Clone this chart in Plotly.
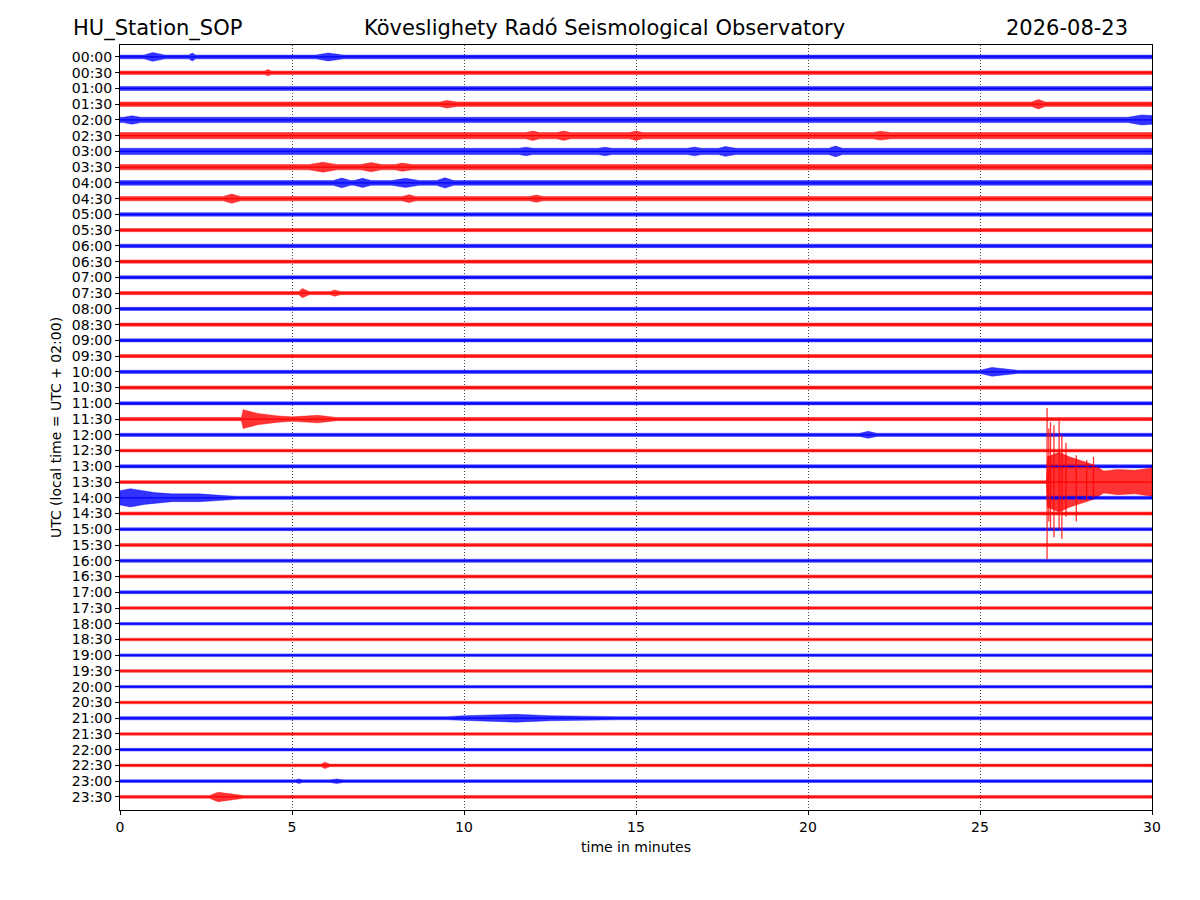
import plotly.graph_objects as go

# row labels (UTC, one trace every 30 minutes)
ROW_LABELS = ["%02d:%02d" % (h, m) for h in range(24) for m in (0, 30)]
ROW_COLORS = ["#0000ff", "#ff0000"] * 24
FILL_COLORS = ["rgba(0,0,255,0.8)", "rgba(255,0,0,0.8)"] * 24

# background noise half-amplitude of each row (in row spacings)
ROW_NOISE = [
    0.12, 0.11, 0.13, 0.14, 0.17, 0.2, 0.2, 0.17, 0.15, 0.14,
    0.11, 0.10, 0.11, 0.10, 0.10, 0.10, 0.10, 0.10, 0.10, 0.10,
    0.10, 0.10, 0.10, 0.10, 0.10, 0.09, 0.10, 0.09, 0.10, 0.10,
    0.09, 0.10, 0.10, 0.10, 0.09, 0.085, 0.085, 0.085, 0.085, 0.085,
    0.085, 0.085, 0.10, 0.075, 0.085, 0.085, 0.085, 0.085,
]

# local bursts: row -> list of (minute, half-amplitude) envelopes
EVENTS = {
    0: [[(0.7, 0.12), (0.95, 0.28), (1.3, 0.12)],
        [(2.0, 0.12), (2.1, 0.25), (2.2, 0.12)],
        [(5.7, 0.12), (6.05, 0.25), (6.5, 0.12)]],
    1: [[(4.2, 0.11), (4.3, 0.2), (4.4, 0.11)]],
    3: [[(9.3, 0.14), (9.5, 0.24), (9.8, 0.14)],
        [(26.5, 0.14), (26.7, 0.3), (26.9, 0.14)]],
    4: [[(0.1, 0.17), (0.35, 0.27), (0.6, 0.17)],
        [(29.3, 0.17), (29.7, 0.32), (30.0, 0.28)]],
    5: [[(11.8, 0.2), (12.0, 0.3), (12.2, 0.2)],
        [(12.7, 0.2), (12.9, 0.3), (13.1, 0.2)],
        [(14.8, 0.2), (15.0, 0.3), (15.2, 0.2)],
        [(21.9, 0.2), (22.1, 0.28), (22.4, 0.2)]],
    6: [[(11.6, 0.2), (11.8, 0.27), (12.0, 0.2)],
        [(13.9, 0.2), (14.1, 0.27), (14.3, 0.2)],
        [(16.5, 0.2), (16.7, 0.28), (16.9, 0.2)],
        [(17.4, 0.2), (17.6, 0.31), (17.9, 0.2)],
        [(20.6, 0.2), (20.8, 0.34), (21.0, 0.2)]],
    7: [[(5.5, 0.17), (5.9, 0.32), (6.3, 0.17)],
        [(7.0, 0.17), (7.3, 0.29), (7.6, 0.17)],
        [(8.0, 0.17), (8.2, 0.26), (8.5, 0.17)]],
    8: [[(6.2, 0.15), (6.45, 0.31), (6.7, 0.15)],
        [(6.8, 0.15), (7.05, 0.29), (7.3, 0.15)],
        [(7.9, 0.15), (8.3, 0.29), (8.7, 0.15)],
        [(9.2, 0.15), (9.45, 0.33), (9.7, 0.15)]],
    9: [[(3.0, 0.14), (3.25, 0.29), (3.5, 0.14)],
        [(8.2, 0.14), (8.4, 0.25), (8.6, 0.14)],
        [(11.9, 0.14), (12.1, 0.23), (12.3, 0.14)]],
    15: [[(5.2, 0.10), (5.3, 0.3), (5.5, 0.10)],
         [(6.1, 0.10), (6.25, 0.2), (6.4, 0.10)]],
    20: [[(25.0, 0.10), (25.35, 0.28), (26.1, 0.10)]],
    23: [[(3.53, 0.10), (3.58, 0.6), (4.0, 0.36), (4.6, 0.2), (5.0, 0.14),
          (5.75, 0.24), (6.3, 0.10)]],
    24: [[(21.5, 0.10), (21.75, 0.22), (22.0, 0.10)]],
    27: [[(26.93, 0.09), (26.96, 1.6), (27.3, 1.9), (27.6, 1.6), (28.0, 1.3),
          (28.3, 1.1), (28.6, 0.7), (29.0, 0.8), (29.5, 0.75), (30.0, 0.9)]],
    28: [[(0.0, 0.45), (0.3, 0.58), (0.7, 0.42), (1.0, 0.33), (1.5, 0.25),
          (2.3, 0.25), (3.0, 0.14), (3.4, 0.10)]],
    42: [[(9.5, 0.10), (10.0, 0.16), (11.5, 0.25), (12.5, 0.16), (14.5, 0.10)]],
    45: [[(5.85, 0.085), (5.95, 0.2), (6.1, 0.085)]],
    46: [[(5.1, 0.085), (5.2, 0.14), (5.3, 0.085)],
         [(6.1, 0.085), (6.3, 0.14), (6.5, 0.085)]],
    47: [[(2.6, 0.085), (2.85, 0.3), (3.2, 0.22), (3.6, 0.085)]],
}

# large earthquake in the 13:30 row: (minute, reach up, reach down) in row spacings
QUAKE_ROW = 27
QUAKE_SPIKES = [
    (26.95, 4.7, 4.9), (27.0, 3.4, 2.5), (27.05, 3.8, 3.0), (27.15, 3.6, 3.5),
    (27.3, 3.9, 3.0), (27.38, 3.0, 3.6), (27.5, 2.5, 2.2), (27.8, 1.7, 2.5),
    (28.1, 1.4, 1.2), (28.3, 1.6, 1.0),
]

fig = go.Figure()

# noise envelopes
for row, label in enumerate(ROW_LABELS):
    base = ROW_NOISE[row]
    pts = [(0.0, base)]
    for ev in EVENTS.get(row, []):
        pts.extend(ev)
    if pts[-1][0] < 30.0:
        pts.append((30.0, base))
    xs = [p[0] for p in pts]
    upper = [row - p[1] for p in pts]
    lower = [row + p[1] for p in pts]
    fig.add_trace(go.Scatter(
        x=xs + xs[::-1],
        y=upper + lower[::-1],
        mode="lines",
        fill="toself",
        fillcolor=FILL_COLORS[row],
        line=dict(color=FILL_COLORS[row], width=0.5),
        hoverinfo="skip",
        showlegend=False,
    ))

# centre line of each trace
for color in ("#0000ff", "#ff0000"):
    cx, cy = [], []
    for row in range(len(ROW_LABELS)):
        if ROW_COLORS[row] == color:
            cx += [0, 30, None]
            cy += [row, row, None]
    fig.add_trace(go.Scatter(
        x=cx, y=cy, mode="lines", line=dict(color=color, width=1.2),
        hoverinfo="skip", showlegend=False,
    ))

# earthquake spikes
sx, sy = [], []
for t, up, down in QUAKE_SPIKES:
    sx += [t, t, None]
    sy += [QUAKE_ROW - up, QUAKE_ROW + down, None]
fig.add_trace(go.Scatter(
    x=sx, y=sy, mode="lines",
    line=dict(color="#ff0000", width=1.3),
    opacity=0.8, hoverinfo="skip", showlegend=False,
))

font = dict(family="DejaVu Sans", color="black")
fig.update_layout(
    width=1200, height=900,
    margin=dict(l=112, r=56, t=37, b=98),
    paper_bgcolor="white", plot_bgcolor="white",
    font=dict(family="DejaVu Sans", size=14, color="black"),
    showlegend=False,
    annotations=[
        dict(text="HU_Station_SOP", xref="paper", yref="paper", x=-0.0475, y=1.022,
             xanchor="left", yanchor="middle", showarrow=False, font=dict(size=21, **font)),
        dict(text="Köveslighety Radó Seismological Observatory", xref="paper", yref="paper",
             x=0.469, y=1.022, xanchor="center", yanchor="middle", showarrow=False,
             font=dict(size=21, **font)),
        dict(text="2026-08-23", xref="paper", yref="paper", x=0.9787, y=1.022,
             xanchor="right", yanchor="middle", showarrow=False, font=dict(size=21, **font)),
    ],
)
fig.update_xaxes(
    range=[0, 30], tickvals=[0, 5, 10, 15, 20, 25, 30],
    ticks="outside", ticklen=4, tickcolor="black",
    showline=True, linecolor="black", linewidth=1, mirror=True,
    showgrid=True, gridcolor="#444444", gridwidth=0.6, griddash="1px,2px",
    zeroline=False,
    title=dict(text="time in minutes", font=dict(size=14), standoff=8),
)
fig.update_yaxes(
    range=[47.83, -0.76], tickvals=list(range(len(ROW_LABELS))), ticktext=ROW_LABELS,
    ticks="outside", ticklen=4, tickcolor="black",
    showline=True, linecolor="black", linewidth=1, mirror=True,
    showgrid=False, zeroline=False,
    title=dict(text="UTC (local time = UTC + 02:00)", font=dict(size=14), standoff=6),
)

fig.write_html("out.html")
